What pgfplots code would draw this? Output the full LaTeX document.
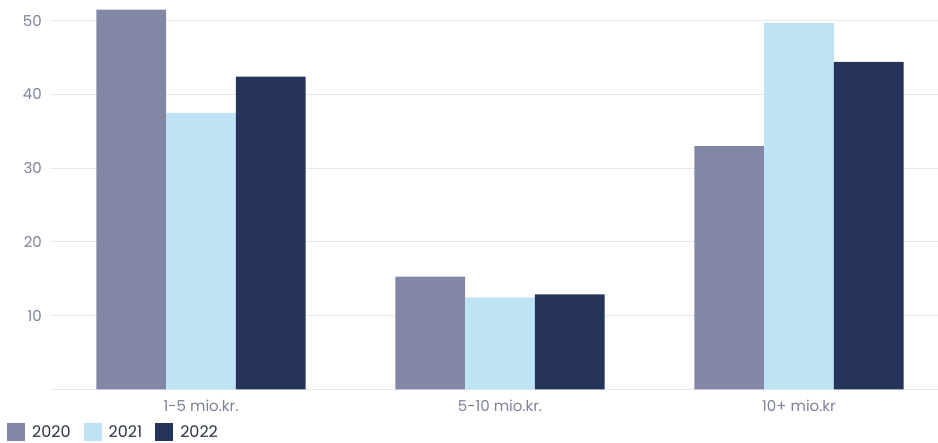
\documentclass[border=0pt]{standalone}
\usepackage{pgfplots}
\pgfplotsset{compat=1.18}
\usepackage{fontspec}
\setmainfont{Poppins}
\definecolor{c2020}{HTML}{8287A6}
\definecolor{c2021}{HTML}{BDE3F5}
\definecolor{c2022}{HTML}{26345B}
\definecolor{gridc}{HTML}{E6E8EF}
\definecolor{tickc}{HTML}{7D8198}
\definecolor{legc}{HTML}{2D3448}
\begin{document}
\begin{tikzpicture}
\path[use as bounding box] (0pt,0pt) rectangle (938pt,443pt);
\begin{axis}[
  at={(50pt,53.5pt)}, anchor=south west,
  scale only axis, width=888pt, height=389.5pt,
  xmin=-0.505, xmax=2.465, ymin=0, ymax=52.8,
  ybar=0pt, bar width=69.7pt,
  axis line style={draw=none},
  axis x line*=bottom, axis y line*=left,
  x axis line style={draw=gridc, line width=1pt},
  xtick={0,1,2}, xticklabels={1-5 mio.kr., 5-10 mio.kr., 10+ mio.kr},
  ytick={10,20,30,40,50},
  major tick length=0pt,
  ymajorgrids, grid style={draw=gridc, line width=1pt},
  /pgf/number format/assume math mode=true,
  ticklabel style={font=\fontsize{15}{17}\selectfont, text=tickc, inner sep=0pt},
  yticklabel style={anchor=east, xshift=-8pt},
  xticklabel style={anchor=north, yshift=-10pt},
  legend columns=3,
  legend style={at={(-0.0484,-0.109)}, anchor=west, draw=none, fill=none, inner sep=0pt,
    font=\fontsize{16}{18}\selectfont, text=legc,
    nodes={inner sep=0pt},
    /tikz/every odd column/.append style={column sep=7pt},
    /tikz/every even column/.append style={column sep=13pt}},
  legend image code/.code={\path[#1,draw=none] (0pt,-8.5pt) rectangle (18pt,9pt);},
]
\addplot[fill=c2020, draw=none] coordinates {(0,51.5) (1,15.3) (2,33.0)};
\addplot[fill=c2021, draw=none] coordinates {(0,37.5) (1,12.5) (2,49.7)};
\addplot[fill=c2022, draw=none] coordinates {(0,42.4) (1,12.9) (2,44.4)};
\legend{2020,2021,2022}
\end{axis}
\end{tikzpicture}
\end{document}
